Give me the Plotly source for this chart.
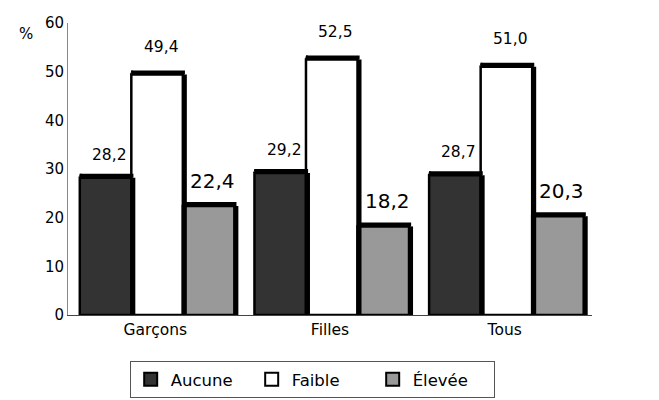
import plotly.graph_objects as go

# Survey shares (%) by group and level
groups = ["Garçons", "Filles", "Tous"]
series_names = ["Aucune", "Faible", "Élevée"]
aucune = [28.2, 29.2, 28.7]
faible = [49.4, 52.5, 51.0]
elevee = [22.4, 18.2, 20.3]
y_ticks = [0, 10, 20, 30, 40, 50, 60]

values = [aucune, faible, elevee]
fills = ["#333333", "#ffffff", "#999999"]
label_sizes = [15.5, 15.5, 20]
label_lift = [23, 28, 25]

FONT = "DejaVu Sans, Verdana, sans-serif"
bar_w = 0.295
xs = list(range(len(groups)))

fig = go.Figure()
for j, (name, vals, col) in enumerate(zip(series_names, values, fills)):
    fig.add_trace(go.Bar(
        name=name, x=xs, y=vals, width=bar_w, offset=(j - 1.5) * bar_w + 0.01,
        marker=dict(color=col, line=dict(color="black", width=2.5)),
        showlegend=False,
    ))
# legend entries with larger square swatches
for name, col in zip(series_names, fills):
    fig.add_trace(go.Scatter(
        name=name, x=[None], y=[None], mode="markers",
        marker=dict(symbol="square", size=13, color=col,
                    line=dict(color="black", width=2)),
    ))

shapes = []
annotations = []
for j, vals in enumerate(values):
    for i, v in enumerate(vals):
        left = i + (j - 1.5) * bar_w + 0.01
        right = left + bar_w
        # top face of the bar (depth effect)
        shapes.append(dict(type="path", xref="x", yref="y",
                           xsizemode="pixel", xanchor=left,
                           ysizemode="pixel", yanchor=v,
                           path="M -1,0 L 2,4 L 0,4 Z",
                           fillcolor="black", line=dict(width=0)))
        shapes.append(dict(type="rect", xref="x", yref="y",
                           x0=left, x1=right + 0.012,
                           ysizemode="pixel", yanchor=v, y0=0, y1=4,
                           fillcolor="black", line=dict(width=0)))
        # side face of the bar
        shapes.append(dict(type="rect", xref="x", yref="y",
                           xsizemode="pixel", xanchor=right, x0=0, x1=4,
                           y0=0, y1=v,
                           fillcolor="black", line=dict(width=0)))
        annotations.append(dict(
            x=(left + right) / 2, y=v, xref="x", yref="y",
            text=f"{v:.1f}".replace(".", ","), showarrow=False,
            yanchor="middle", yshift=label_lift[j], xshift=4,
            font=dict(family=FONT, size=label_sizes[j], color="black"),
        ))

annotations.append(dict(xref="x domain", yref="y domain", x=-0.080, y=0.962,
                        xanchor="center", yanchor="middle",
                        text="%", showarrow=False,
                        font=dict(family=FONT, size=15, color="black")))

fig.update_layout(
    width=659, height=400,
    margin=dict(l=68, r=67, t=23, b=85, autoexpand=False),
    paper_bgcolor="white", plot_bgcolor="white",
    barmode="overlay",
    font=dict(family=FONT, size=14, color="black"),
    showlegend=True,
    legend=dict(orientation="h", x=0.466, xanchor="center", y=-0.158, yanchor="top",
                bordercolor="#555555", borderwidth=1, entrywidth=76,
                font=dict(family=FONT, size=16.5), itemclick=False),
    shapes=shapes,
    annotations=annotations,
)
fig.update_xaxes(range=[-0.5, 2.5], tickvals=xs, ticktext=groups,
                 showline=True, linecolor="#444444", linewidth=1,
                 ticks="", showgrid=False, zeroline=False,
                 tickfont=dict(family=FONT, size=15.5))
fig.update_yaxes(range=[0, 60], tickvals=y_ticks, showline=True,
                 linecolor="#888888", linewidth=1, ticks="", showgrid=False,
                 zeroline=False, tickfont=dict(family=FONT, size=15))

fig.write_html("out.html")
